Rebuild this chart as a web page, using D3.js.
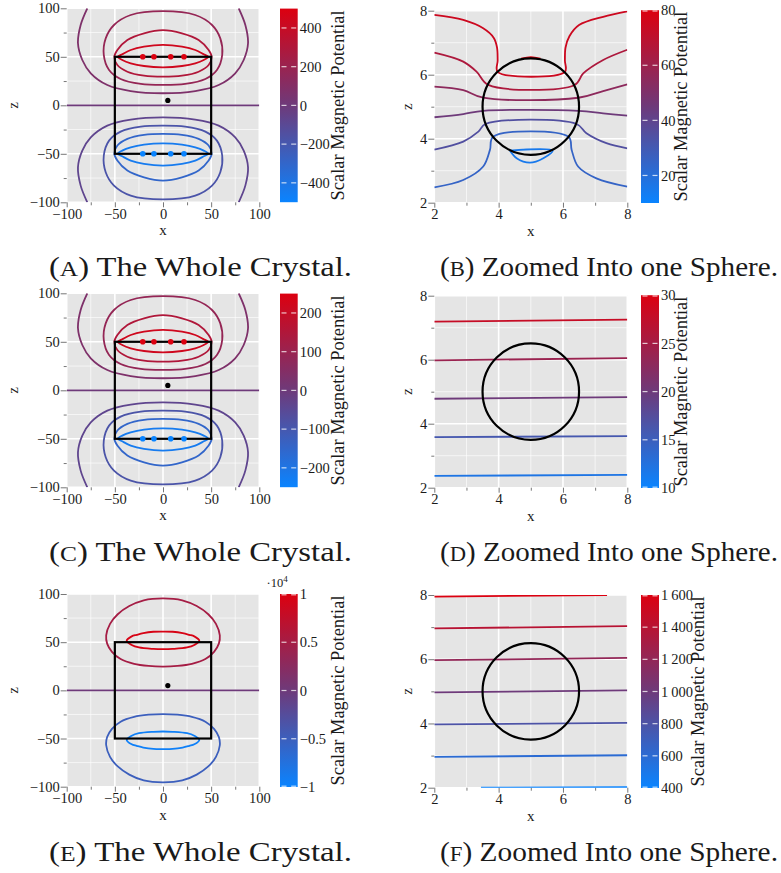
<!DOCTYPE html>
<html lang="en">
<head>
<meta charset="utf-8">
<title>Scalar Magnetic Potential</title>
<style>
  body { margin: 0; background: #fff; }
  text { font-family: "Liberation Serif", "Times New Roman", serif; fill: #1a1a1a; }
</style>
</head>
<body>
<svg id="fig" width="781" height="873"></svg>
<script src="https://cdnjs.cloudflare.com/ajax/libs/d3/7.8.5/d3.min.js"></script>
<script>
// ---------- DATA ----------
// axis ticks
var crystalTicks = [-100, -50, 0, 50, 100];
var crystalMinor = [-75, -25, 25, 75];
var sphereTicks = [2, 4, 6, 8];
var sphereMinor = [3, 5, 7];

// whole crystal, upper half, left side only (plot is mirrored in x, and in z with opposite sign)
// outer contour is open at the top edge; the others are closed rings from (0,top) round to (0,bottom)
var crystalOuter = [[-78.6, 100], [-85.5, 82.8], [-88.3, 63.9], [-83.8, 46.7], [-75, 33], [-57.8, 20.9], [-33.5, 14.7], [0, 12.4]];
var crystalRing2 = [[0, 97], [-33.5, 93.1], [-50.9, 82.8], [-59.5, 69], [-61.5, 52], [-56, 36.4], [-44, 27.1], [-23, 22], [0, 21]];
var crystalRing3 = [[0, 77.6], [-19.7, 74.2], [-37, 67.3], [-47.4, 57], [-50.5, 50], [-47.4, 41.5], [-37, 34.6], [-19.7, 30.5], [0, 29.5]];
var crystalRing4 = [[0, 62.2], [-19.7, 60.4], [-33.5, 57], [-42.3, 52.6], [-47, 50], [-42.3, 46.7], [-33.5, 43.3], [-19.7, 40.5], [0, 39.2]];
var crystalSpheresX = [-21, -9.4, 8, 21.8];   // small closed contours round the spheres at z = +-50
var zoomSphere = [5, 5];                      // the sphere that is zoomed into (centre x, z)
var zoomRadius = 1.5;

// contour levels, outer -> inner, then the level of the sphere dots
var levelsA = [75, 175, 300, 440];
var dotLevelA = 500;
var levelsC = [37, 87, 150, 220];
var dotLevelC = 250;

// panel E: two rings per half
var wideOuter = [[0, 95.5], [-20, 93.5], [-35, 87.5], [-47, 79], [-55, 69], [-59, 57], [-58, 48.5], [-53, 40], [-44, 32.5], [-30, 27.5], [-15, 25.3], [0, 24.6]];
var wideInner = [[0, 61], [-10, 60.8], [-20.4, 59.4], [-27.3, 57.6], [-32.5, 56], [-37.7, 51.5], [-32.5, 47.1], [-25, 44.5], [-10, 43], [0, 42.7]];
var levelsE = [5000, 9500];

// panel B: contours near one sphere
var levelsB = [80, 75, 65, 55, 45, 35, 25, 15];
var contoursB = [
  [[4.7, 6.5], [5.0, 6.55], [5.3, 6.5]],
  [[2, 7.87], [2.9, 7.71], [3.52, 7.45], [3.85, 7.15], [3.95, 6.85], [3.97, 6.45], [3.97, 6.09], [6.06, 6.09], [6.06, 6.45], [6.08, 6.85], [6.2, 7.2], [6.5, 7.55], [7.25, 7.81], [8, 7.98]],
  [[2, 6.69], [2.9, 6.41], [3.32, 6.09], [3.68, 5.68], [6.36, 5.68], [6.63, 6.04], [7.25, 6.46], [8, 6.78]],
  [[2, 5.63], [2.9, 5.52], [3.52, 5.28], [6.48, 5.28], [7.25, 5.49], [8, 5.7]],
  [[2, 4.67], [2.9, 4.77], [3.52, 4.87], [6.48, 4.87], [7.25, 4.79], [8, 4.72]],
  [[2, 3.66], [2.9, 3.91], [3.37, 4.22], [3.59, 4.46], [6.42, 4.46], [6.73, 4.17], [7.35, 3.86], [8, 3.7]],
  [[2, 2.48], [2.9, 2.71], [3.52, 3.13], [3.73, 3.65], [3.83, 4.06], [6.17, 4.06], [6.27, 3.65], [6.47, 3.13], [7.04, 2.76], [8, 2.5]],
  [[4.35, 3.63], [5.68, 3.63], [5.39, 3.39], [4.97, 3.25], [4.56, 3.39], [4.35, 3.63]]
];

// panel D: straight contours, z at x = 2 and x = 8
var levelsD = [28, 24, 20, 16, 12];
var zLeftD = [7.19, 5.98, 4.78, 3.58, 2.37];
var zRightD = [7.25, 6.05, 4.83, 3.61, 2.4];

// panel F: straight contours (first and last leave the plot)
var levelsF = [1600, 1400, 1200, 1000, 800, 600, 400];
var linesF = [
  [[2, 7.95], [7.37, 8.0]],
  [[2, 6.96], [8, 7.03]],
  [[2, 5.97], [8, 6.04]],
  [[2, 4.97], [8, 5.03]],
  [[2, 3.97], [8, 4.02]],
  [[2, 2.96], [8, 3.01]],
  [[3.45, 2.0], [8, 2.02]]
];

// colour bars
var cbDomainA = [-500, 500], cbTicksA = [-400, -200, 0, 200, 400];
var cbDomainB = [10, 80], cbTicksB = [20, 40, 60, 80];
var cbDomainC = [-250, 250], cbTicksC = [-200, -100, 0, 100, 200];
var cbDomainD = [10, 30], cbTicksD = [10, 15, 20, 25, 30];
var cbDomainE = [-10000, 10000], cbTicksE = [-10000, -5000, 0, 5000, 10000];
var cbDomainF = [400, 1600], cbTicksF = [400, 600, 800, 1000, 1200, 1400, 1600];

// ---------- DRAWING ----------
var svg = d3.select("#fig");
var FONT = '"Liberation Serif", "Times New Roman", serif';
var TICK_SIZE = 14.5;
var ramp = d3.scaleLinear().domain([0, 0.5, 1]).range(["#0a84ff", "#6e3a7a", "#dc0010"]);
var clipId = 0;

var defs = svg.append("defs");
var grad = defs.append("linearGradient").attr("id", "cbgrad")
  .attr("x1", 0).attr("y1", 1).attr("x2", 0).attr("y2", 0);
d3.range(0, 1.0001, 0.1).forEach(function (t) {
  grad.append("stop").attr("offset", t).attr("stop-color", ramp(t));
});

function mirrorX(p) { return [-p[0], p[1]]; }
function closedRing(half) { return half.concat(half.slice(1, -1).reverse().map(mirrorX)); }
function openArch(half) { return half.concat(half.slice(0, -1).reverse().map(mirrorX)); }
function flipZ(pts) { return pts.map(function (p) { return [p[0], -p[1]]; }); }

function thinSpace(v) { return d3.format(",")(v).replace(",", "\u2009"); }

// draws frame, grid and axes of one panel, returns scales and a clipped group
function panelFrame(p) {
  var x = d3.scaleLinear().domain(p.dom).range([p.left, p.left + p.w]);
  var y = d3.scaleLinear().domain(p.dom).range([p.top + p.h, p.top]);
  var g = svg.append("g");

  g.append("rect").attr("x", p.left).attr("y", p.top).attr("width", p.w).attr("height", p.h)
    .attr("fill", "#e5e5e5");

  var grid = g.append("g").attr("stroke", "#fff");
  p.minor.forEach(function (v) {
    grid.append("line").attr("x1", x(v)).attr("x2", x(v)).attr("y1", p.top).attr("y2", p.top + p.h)
      .attr("stroke-width", 0.8).attr("stroke-opacity", 0.8);
    grid.append("line").attr("y1", y(v)).attr("y2", y(v)).attr("x1", p.left).attr("x2", p.left + p.w)
      .attr("stroke-width", 0.8).attr("stroke-opacity", 0.8);
  });
  p.ticks.forEach(function (v) {
    grid.append("line").attr("x1", x(v)).attr("x2", x(v)).attr("y1", p.top).attr("y2", p.top + p.h)
      .attr("stroke-width", 1.6);
    grid.append("line").attr("y1", y(v)).attr("y2", y(v)).attr("x1", p.left).attr("x2", p.left + p.w)
      .attr("stroke-width", 1.6);
  });

  var fmt = d3.format("");
  var bottom = g.append("g").attr("transform", "translate(0," + (p.top + p.h) + ")")
    .call(d3.axisBottom(x).tickValues(p.ticks).tickFormat(fmt).tickSize(5).tickPadding(1.5));
  var bottomMinor = g.append("g").attr("transform", "translate(0," + (p.top + p.h) + ")")
    .call(d3.axisBottom(x).tickValues(p.minor).tickFormat("").tickSize(3));
  var left = g.append("g").attr("transform", "translate(" + p.left + ",0)")
    .call(d3.axisLeft(y).tickValues(p.ticks).tickFormat(fmt).tickSize(6).tickPadding(1));
  var leftMinor = g.append("g").attr("transform", "translate(" + p.left + ",0)")
    .call(d3.axisLeft(y).tickValues(p.minor).tickFormat("").tickSize(3));
  [bottom, bottomMinor, left, leftMinor].forEach(function (a) {
    a.select(".domain").remove();
    a.selectAll("line").attr("stroke", "#777");
    a.attr("font-family", FONT).attr("font-size", TICK_SIZE);
    a.selectAll("text").attr("fill", "#1a1a1a");
  });

  g.append("text").attr("x", p.left + p.w / 2).attr("y", p.top + p.h + 33)
    .attr("text-anchor", "middle").attr("font-size", 15).text("x");
  g.append("text").attr("transform", "translate(" + p.zLabelX + "," + (p.top + p.h / 2) + ") rotate(-90)")
    .attr("text-anchor", "middle").attr("font-size", 15).text("z");

  var id = "clip" + (clipId++);
  defs.append("clipPath").attr("id", id).append("rect")
    .attr("x", p.left).attr("y", p.top).attr("width", p.w).attr("height", p.h);
  var inner = g.append("g").attr("clip-path", "url(#" + id + ")");

  var line = d3.line().x(function (d) { return x(d[0]); }).y(function (d) { return y(d[1]); })
    .curve(d3.curveCatmullRom.alpha(0.5));
  var ring = d3.line().x(function (d) { return x(d[0]); }).y(function (d) { return y(d[1]); })
    .curve(d3.curveCatmullRomClosed.alpha(0.5));
  return { x: x, y: y, g: g, inner: inner, line: line, ring: ring };
}

function colourBar(c) {
  var s = d3.scaleLinear().domain(c.dom).range([c.top + c.h, c.top]);
  var g = svg.append("g");
  g.append("rect").attr("x", c.left).attr("y", c.top).attr("width", c.w).attr("height", c.h)
    .attr("fill", "url(#cbgrad)");
  c.ticks.forEach(function (v) {
    var yy = Math.min(Math.max(s(v), c.top + 0.8), c.top + c.h - 0.8);
    g.append("line").attr("x1", c.left + 1.5).attr("x2", c.left + 6.5).attr("y1", yy).attr("y2", yy)
      .attr("stroke", "#fff").attr("stroke-opacity", 0.75).attr("stroke-width", 1.2);
    g.append("line").attr("x1", c.left + c.w - 6.5).attr("x2", c.left + c.w - 1.5).attr("y1", yy).attr("y2", yy)
      .attr("stroke", "#fff").attr("stroke-opacity", 0.75).attr("stroke-width", 1.2);
  });
  var ax = g.append("g").attr("transform", "translate(" + (c.left + c.w) + ",0)")
    .call(d3.axisRight(s).tickValues(c.ticks).tickFormat(c.fmt).tickSize(0).tickPadding(2));
  ax.select(".domain").remove();
  ax.attr("font-family", FONT).attr("font-size", TICK_SIZE);
  ax.selectAll("text").attr("fill", "#1a1a1a");
  g.append("text")
    .attr("transform", "translate(" + c.titleX + "," + (c.top + c.h / 2) + ") rotate(-90)")
    .attr("text-anchor", "middle").attr("font-size", 18)
    .attr("textLength", 190).attr("lengthAdjust", "spacingAndGlyphs")
    .text("Scalar Magnetic Potential");
  return g;
}

function colourOf(dom) {
  return function (v) { return ramp((v - dom[0]) / (dom[1] - dom[0])); };
}

function caption(xl, yb, len, letter, words) {
  var t = svg.append("text").attr("x", xl).attr("y", yb).attr("font-size", 27)
    .attr("textLength", len).attr("lengthAdjust", "spacingAndGlyphs");
  t.append("tspan").text("(");
  t.append("tspan").attr("font-size", 21).text(letter);
  t.append("tspan").text(") " + words);
}

// whole crystal panel (A, C, E)
function crystalPanel(top, h, rings, levels, dotLevel, dom) {
  var f = panelFrame({ left: 66.7, w: 192.6, top: top, h: h, dom: [-100, 100],
    ticks: crystalTicks, minor: crystalMinor, zLabelX: 18 });
  var col = colourOf(dom);
  var sw = 1.8;
  f.inner.append("path").attr("d", f.line([[-100, 0], [100, 0]]))
    .attr("fill", "none").attr("stroke", col(0)).attr("stroke-width", sw);
  rings.forEach(function (r, i) {
    [1, -1].forEach(function (sgn) {
      var pts = r.open ? openArch(r.pts) : closedRing(r.pts);
      if (sgn < 0) pts = flipZ(pts);
      f.inner.append("path").attr("d", r.open ? f.line(pts) : f.ring(pts))
        .attr("fill", "none").attr("stroke", col(sgn * levels[i])).attr("stroke-width", sw);
    });
  });
  // crystal outline
  f.inner.append("rect").attr("x", f.x(-50)).attr("y", f.y(50))
    .attr("width", f.x(50) - f.x(-50)).attr("height", f.y(-50) - f.y(50))
    .attr("fill", "none").attr("stroke", "#000").attr("stroke-width", 2.2);
  if (dotLevel) {
    [1, -1].forEach(function (sgn) {
      crystalSpheresX.forEach(function (sx) {
        f.inner.append("circle").attr("cx", f.x(sx)).attr("cy", f.y(sgn * 50)).attr("r", 2.8)
          .attr("fill", col(sgn * dotLevel));
      });
    });
  }
  f.inner.append("circle").attr("cx", f.x(zoomSphere[0])).attr("cy", f.y(zoomSphere[1])).attr("r", 2.6)
    .attr("fill", "#000");
  return f;
}

// zoomed sphere panel (B, D, F)
function spherePanel(top, h, lines, levels, dom) {
  var f = panelFrame({ left: 434.3, w: 193, top: top, h: h, dom: [2, 8],
    ticks: sphereTicks, minor: sphereMinor, zLabelX: 411.5 });
  var col = colourOf(dom);
  lines.forEach(function (pts, i) {
    f.inner.append("path").attr("d", f.line(pts))
      .attr("fill", "none").attr("stroke", col(levels[i])).attr("stroke-width", 1.8);
  });
  f.inner.append("circle").attr("cx", f.x(zoomSphere[0])).attr("cy", f.y(zoomSphere[1]))
    .attr("r", f.x(zoomSphere[0] + zoomRadius) - f.x(zoomSphere[0]))
    .attr("fill", "none").attr("stroke", "#000").attr("stroke-width", 2.2);
  return f;
}

var ringsAC = [
  { pts: crystalOuter, open: true },
  { pts: crystalRing2 },
  { pts: crystalRing3 },
  { pts: crystalRing4 }
];
var ringsE = [{ pts: wideOuter }, { pts: wideInner }];

var fmtPlain = d3.format("");

// row 1
crystalPanel(8.3, 194, ringsAC, levelsA, dotLevelA, cbDomainA);
colourBar({ left: 280, w: 17.7, top: 8.6, h: 193.6, dom: cbDomainA, ticks: cbTicksA, fmt: fmtPlain, titleX: 344 });
spherePanel(10.7, 192, contoursB, levelsB, cbDomainB);
colourBar({ left: 641, w: 18, top: 10.2, h: 192.8, dom: cbDomainB, ticks: cbTicksB, fmt: fmtPlain, titleX: 687 });

// row 2
crystalPanel(293.3, 194, ringsAC, levelsC, dotLevelC, cbDomainC);
colourBar({ left: 280, w: 17.7, top: 293.6, h: 193.6, dom: cbDomainC, ticks: cbTicksC, fmt: fmtPlain, titleX: 344 });
var linesD = zLeftD.map(function (z, i) { return [[2, z], [8, zRightD[i]]]; });
spherePanel(295.7, 192, linesD, levelsD, cbDomainD);
colourBar({ left: 641, w: 18, top: 295.2, h: 192.8, dom: cbDomainD, ticks: cbTicksD, fmt: fmtPlain, titleX: 687 });

// row 3
crystalPanel(594, 192.7, ringsE, levelsE, null, cbDomainE);
colourBar({ left: 280, w: 17.7, top: 594, h: 193, dom: cbDomainE, ticks: cbTicksE,
  fmt: function (v) { return fmtPlain(v / 1e4); }, titleX: 344 });
var expo = svg.append("text").attr("x", 266.5).attr("y", 587).attr("font-size", 12.5);
expo.append("tspan").text("\u00b710");
expo.append("tspan").attr("dy", -5).attr("font-size", 9).text("4");
spherePanel(595, 192.7, linesF, levelsF, cbDomainF);
colourBar({ left: 641, w: 18, top: 595, h: 193, dom: cbDomainF, ticks: cbTicksF, fmt: thinSpace, titleX: 704 });

// captions
caption(49, 276, 303, "A", "The Whole Crystal.");
caption(440, 276, 338, "B", "Zoomed Into one Sphere.");
caption(49, 561, 303, "C", "The Whole Crystal.");
caption(440, 561, 338, "D", "Zoomed Into one Sphere.");
caption(49, 861, 303, "E", "The Whole Crystal.");
caption(440, 861, 338, "F", "Zoomed Into one Sphere.");
</script>
</body>
</html>
